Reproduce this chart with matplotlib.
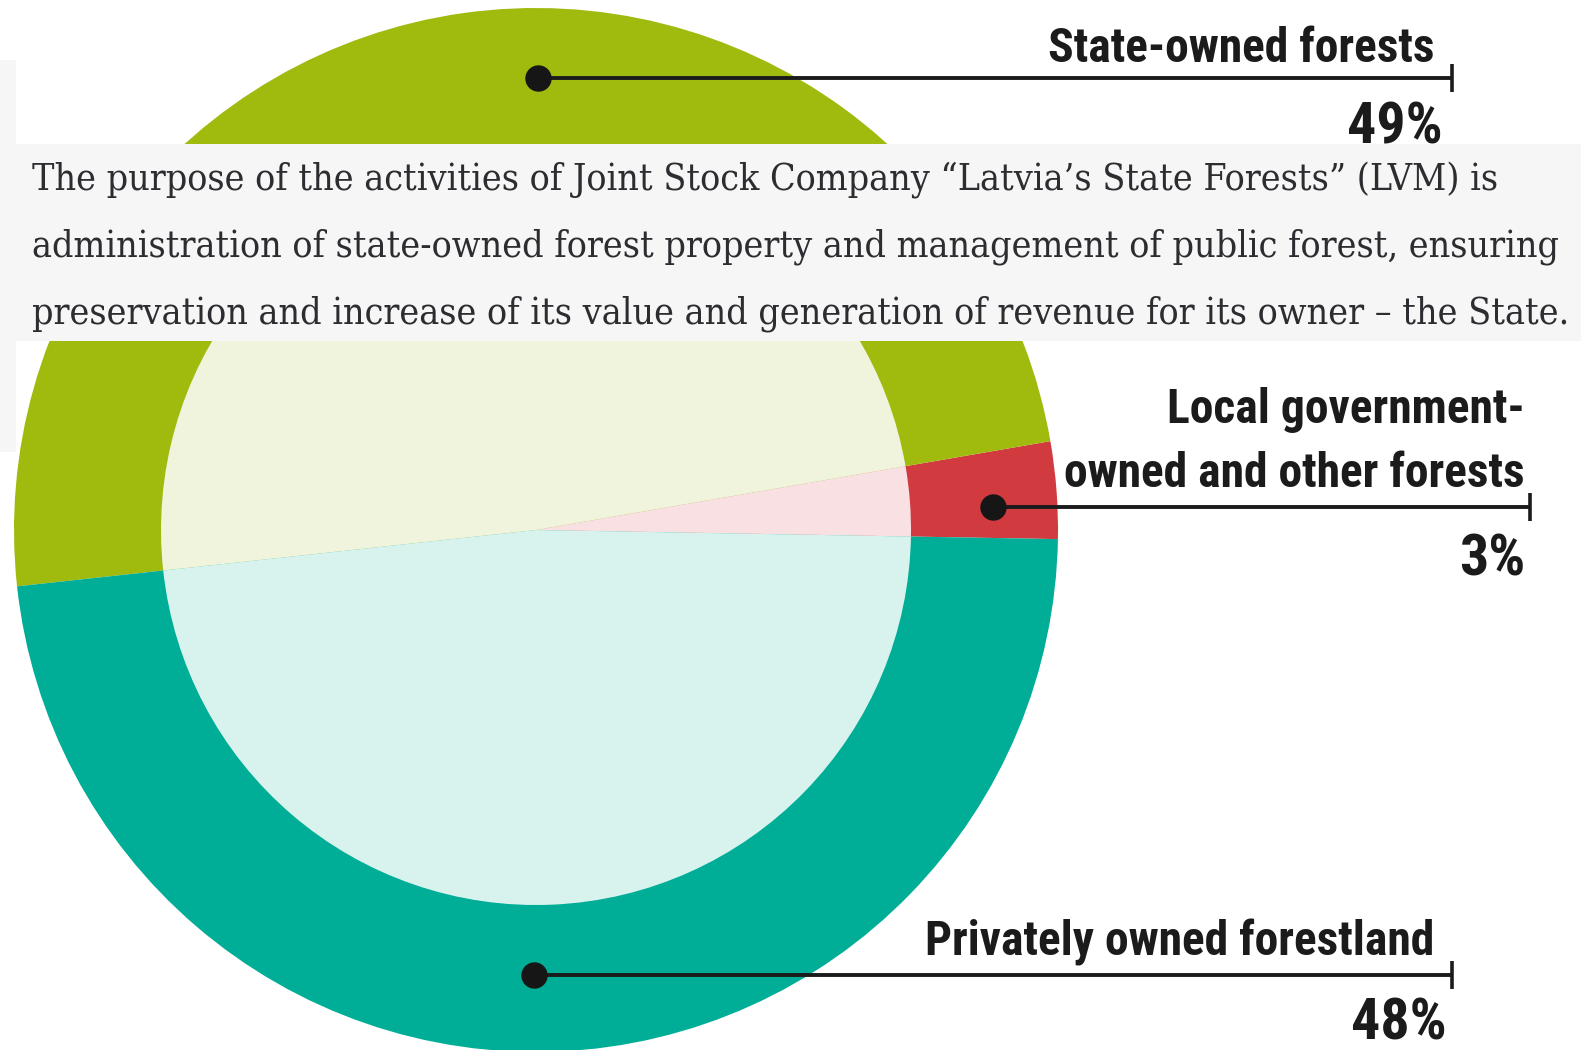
import os

import matplotlib
matplotlib.use("Agg")
import matplotlib.pyplot as plt
from matplotlib import font_manager as fm
from matplotlib.patches import Rectangle

# --- data -------------------------------------------------------------
segments = ["Local government-\nowned and other forests", "State-owned forests", "Privately owned forestland"]
shares = [3, 49, 48]
share_labels = ["3%", "49%", "48%"]
ring_colors = ["#D13B3F", "#A0BA0E", "#00AD96"]
inner_colors = ["#F8E0E3", "#F0F4DC", "#D8F3EE"]

paragraph = [
    "The purpose of the activities of Joint Stock Company \u201cLatvia\u2019s State Forests\u201d (LVM) is",
    "administration of state-owned forest property and management of public forest, ensuring",
    "preservation and increase of its value and generation of revenue for its owner \u2013 the State.",
]

W, H = 1581, 1050
CX, CY = 536, 530
R_OUT, R_IN = 522, 375
INK = "#1B1B1B"


def find_font(keys, fallback):
    files = [f.fname for f in fm.fontManager.ttflist]
    for key in keys:
        for fn in files:
            if key in os.path.basename(fn).lower().replace(" ", ""):
                return fm.FontProperties(fname=fn)
    return fallback


label_fp = find_font(
    ["robotocondensed-bold.", "robotocondensed-semibold", "robotocondensed-medium",
     "opensans-condensedbold", "opensans_condensed-bold", "opensanscondensed-bold",
     "notosans-condensedbold", "notosans-condensedsemibold",
     "liberationsansnarrow-bold.", "dejavusanscondensed-bold."],
    fm.FontProperties(family="DejaVu Sans", weight="bold"),
)
text_fp = find_font(["dejavuserifcondensed.ttf"],
                    fm.FontProperties(family=["DejaVu Serif", "Liberation Serif"]))

fig = plt.figure(figsize=(W / 100, H / 100), dpi=100)
ax = fig.add_axes([0, 0, 1, 1])

# y axis is flipped below, so clockwise in data reads counter-clockwise on screen
ax.pie(shares, colors=ring_colors, radius=R_OUT, center=(CX, CY), startangle=1,
       counterclock=False, wedgeprops=dict(linewidth=0, antialiased=True))
ax.pie(shares, colors=inner_colors, radius=R_IN, center=(CX, CY), startangle=1,
       counterclock=False, wedgeprops=dict(linewidth=0, antialiased=True))

# grey panels: thin strip at the left and the text band across the chart
ax.add_patch(Rectangle((0, 60), 16, 392, facecolor="#F6F6F6", edgecolor="none", zorder=0))
ax.add_patch(Rectangle((0, 144), W, 197, facecolor="#F6F6F6", edgecolor="none", zorder=6))

ax.set_xlim(0, W)
ax.set_ylim(H, 0)
ax.set_aspect("auto")
ax.axis("off")

renderer = fig.canvas.get_renderer()


def width_of(t):
    return t.get_window_extent(renderer=renderer).width


# paragraph in the band
ptexts = []
for i, line in enumerate(paragraph):
    t = ax.text(32, 190 + 66.5 * i, line, fontproperties=text_fp.copy(), fontsize=29,
                color="#2C2C31", ha="left", va="baseline", zorder=7)
    ptexts.append(t)
size = 29 * (1558 - 32) / width_of(ptexts[1])
for t in ptexts:
    t.set_fontsize(size)

# leader lines: (dot x, dot y, end x), label lines (right x, baseline), percent (right x, baseline)
leaders = [
    (993, 507, 1530, [(1525, 423), (1525, 487)], (1525, 575)),
    (538, 78, 1452, [(1434, 62)], (1443, 143)),
    (534, 975, 1452, [(1434, 955)], (1447, 1040)),
]

label_texts = []
pct_texts = []
for (dx, dy, ex, lines, (px, py)), name, pct in zip(leaders, segments, share_labels):
    ax.plot([dx, ex], [dy, dy], color=INK, lw=2.8, solid_capstyle="butt", zorder=3)
    ax.plot([ex, ex], [dy - 14, dy + 14], color=INK, lw=2.6, solid_capstyle="butt", zorder=3)
    ax.plot(dx, dy, "o", ms=19, color="#161616", mec="none", zorder=4)
    for (lx, ly), part in zip(lines, name.split("\n")):
        t = ax.text(lx, ly, part, fontproperties=label_fp.copy(), fontsize=40, color=INK,
                    ha="right", va="baseline", zorder=3)
        label_texts.append(t)
    t = ax.text(px, py, pct, fontproperties=label_fp.copy(), fontsize=50, color=INK,
                ha="right", va="baseline", zorder=3)
    pct_texts.append(t)

# one size for all labels, set by the tightest line ("owned and other forests")
lab_size = 40 * (1525 - 1064) / width_of(label_texts[1])
for t in label_texts:
    t.set_fontsize(lab_size)

# percent figures: mostly the reference height, partly its width
bb = pct_texts[1].get_window_extent(renderer=renderer)
h_fit = 50 * 54 / bb.height
w_fit = 50 * 96 / bb.width
pct_size = h_fit ** 0.7 * w_fit ** 0.3
for t in pct_texts:
    t.set_fontsize(pct_size)

fig.savefig("out.png", dpi=100, facecolor="white")
plt.close(fig)
